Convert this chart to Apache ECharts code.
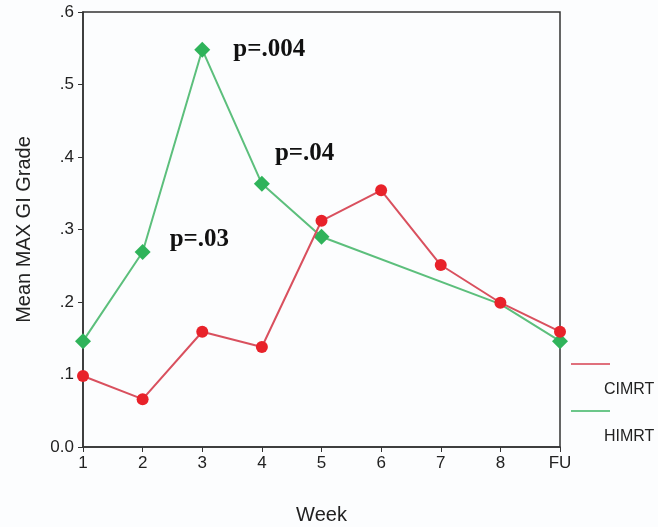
<!DOCTYPE html>
<html>
<head>
<meta charset="utf-8">
<script src="https://cdn.jsdelivr.net/npm/echarts@6/dist/echarts.min.js"></script>
<style>
  html, body { margin: 0; padding: 0; background: #fcfdfe; }
  #main { width: 658px; height: 527px; }
</style>
</head>
<body>
<div id="main"></div>
<script>
// data
var weeks = ['1', '2', '3', '4', '5', '6', '7', '8', 'FU'];
var cimrt = [0.098, 0.066, 0.159, 0.138, 0.312, 0.354, 0.251, 0.199, 0.159];
var himrt = [0.146, 0.269, 0.548, 0.363, 0.290, null, null, 0.197, 0.146];
var yTicks = ['0.0', '.1', '.2', '.3', '.4', '.5', '.6'];
// p-value notes on the HIMRT points (index -> text)
var pNotes = { 1: 'p=.03', 2: 'p=.004', 3: 'p=.04' };
var pOffsets = { 1: [14, -12], 2: [18, 0], 3: [0, -30] };

var myChart = echarts.init(document.getElementById('main'));

var himrtData = himrt.map(function (v, i) {
    var item = { value: v };
    if (i === 7) item.symbolSize = 0;
    if (pNotes[i]) {
        item.label = {
            show: true,
            position: 'right',
            offset: pOffsets[i],
            formatter: pNotes[i],
            fontFamily: '"Liberation Serif", "Times New Roman", serif',
            fontWeight: 'bold',
            fontSize: 25,
            color: '#111'
        };
    }
    return item;
});

var option = {
    backgroundColor: '#fcfdfe',
    animation: false,
    grid: {
        left: 83, right: 98, top: 12, bottom: 80,
        outerBoundsMode: 'none',
        show: true,
        borderColor: '#333',
        borderWidth: 1.5,
        backgroundColor: 'transparent'
    },
    xAxis: {
        type: 'category',
        data: weeks,
        boundaryGap: false,
        name: 'Week',
        nameLocation: 'middle',
        nameGap: 58,
        nameTextStyle: { fontFamily: '"Liberation Sans", Arial, sans-serif', fontSize: 20, color: '#222' },
        axisLine: { lineStyle: { color: '#333', width: 1.5 } },
        axisTick: { show: true, length: 5, alignWithLabel: true, lineStyle: { color: '#333' } },
        axisLabel: { fontFamily: '"Liberation Sans", Arial, sans-serif', fontSize: 17, color: '#222', margin: 8 },
        splitLine: { show: false }
    },
    yAxis: {
        type: 'value',
        min: 0,
        max: 0.6,
        interval: 0.1,
        name: 'Mean MAX GI Grade',
        nameLocation: 'middle',
        nameGap: 49,
        nameTextStyle: { fontFamily: '"Liberation Sans", Arial, sans-serif', fontSize: 20, color: '#222' },
        axisLine: { show: true, lineStyle: { color: '#333', width: 1.5 } },
        axisTick: { show: true, length: 5, lineStyle: { color: '#333' } },
        axisLabel: {
            fontFamily: '"Liberation Sans", Arial, sans-serif',
            fontSize: 17,
            color: '#222',
            margin: 9,
            formatter: function (v) { return yTicks[Math.round(v * 10)]; }
        },
        splitLine: { show: false }
    },
    graphic: [
        { type: 'line', shape: { x1: 571, y1: 364, x2: 610, y2: 364 }, style: { stroke: '#e0707c', lineWidth: 2 } },
        { type: 'text', left: 604, top: 382, style: { text: 'CIMRT', font: '16px "Liberation Sans", Arial, sans-serif', fill: '#222' } },
        { type: 'line', shape: { x1: 571, y1: 411, x2: 610, y2: 411 }, style: { stroke: '#6cc78a', lineWidth: 2 } },
        { type: 'text', left: 604, top: 429, style: { text: 'HIMRT', font: '16px "Liberation Sans", Arial, sans-serif', fill: '#222' } }
    ],
    series: [
        {
            name: 'HIMRT',
            type: 'line',
            data: himrtData,
            connectNulls: true,
            symbol: 'diamond',
            symbolSize: 16,
            z: 2,
            lineStyle: { color: '#5cbf7c', width: 2 },
            itemStyle: { color: '#2fb35a' }
        },
        {
            name: 'CIMRT',
            type: 'line',
            data: cimrt,
            symbol: 'circle',
            symbolSize: 12,
            z: 3,
            lineStyle: { color: '#d9505e', width: 2 },
            itemStyle: { color: '#e8222a' }
        }
    ]
};

myChart.setOption(option);
</script>
</body>
</html>
